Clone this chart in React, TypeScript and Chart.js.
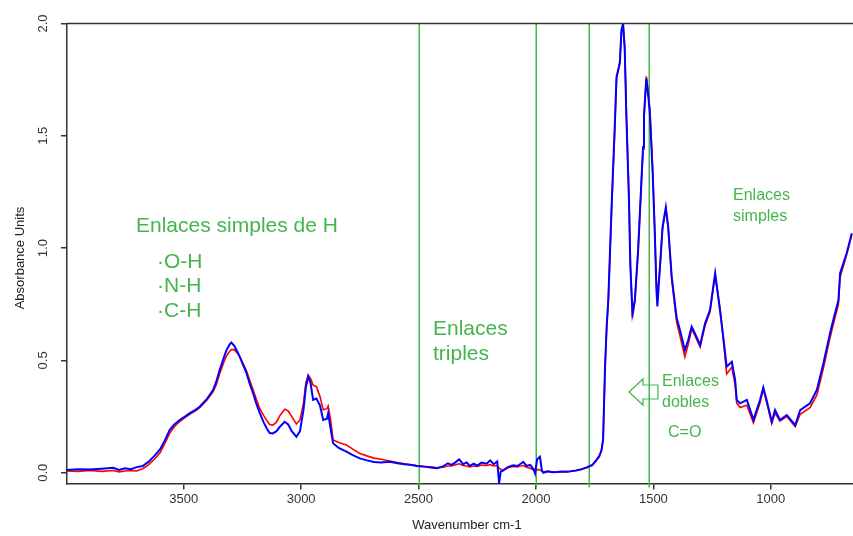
import React, { useEffect, useRef } from 'react';
import { Chart, registerables } from 'chart.js';

Chart.register(...registerables);

// Wavenumber (cm-1), descending
const wavenumbers = [
  3997, 3950, 3900, 3850, 3800, 3775, 3750, 3725, 3700, 3675, 3650, 3625, 3600, 3580, 3560, 3540,
  3517, 3495, 3474, 3450, 3432, 3400, 3375, 3360, 3347, 3330, 3318, 3305, 3297, 3285, 3270, 3261,
  3245, 3233, 3220, 3205, 3190, 3176, 3160, 3145, 3134, 3120, 3105, 3090, 3070, 3055, 3040, 3020,
  3005, 2990, 2980, 2970, 2960, 2949, 2935, 2920, 2906, 2890, 2885, 2875, 2864, 2840, 2807, 2780,
  2750, 2720, 2690, 2660, 2622, 2590, 2560, 2530, 2508, 2470, 2440, 2423, 2395, 2375, 2360, 2345,
  2327, 2310, 2295, 2282, 2265, 2250, 2232, 2210, 2195, 2180, 2165, 2157, 2150, 2140, 2120, 2097,
  2080, 2065, 2054, 2040, 2025, 2010, 2004, 1995, 1983, 1975, 1969, 1950, 1930, 1912, 1890, 1870,
  1855, 1830, 1810, 1784, 1760, 1742, 1730, 1721, 1714, 1706, 1699, 1692, 1678, 1664, 1657, 1643,
  1636, 1629, 1622, 1615, 1604, 1598, 1589, 1579, 1565, 1551, 1544, 1540, 1530, 1523, 1515, 1503,
  1494, 1487, 1483, 1472, 1461, 1447, 1437, 1422, 1401, 1387, 1366, 1352, 1337, 1323, 1301, 1280,
  1259, 1237, 1216, 1202, 1188, 1166, 1152, 1145, 1131, 1102, 1074, 1046, 1032, 1018, 996, 982,
  961, 932, 896, 875, 833, 804, 776, 748, 734, 712, 705, 677, 655,
];

// Absorbance, blue spectrum
const blueAbs = [
  0.012, 0.015, 0.014, 0.018, 0.022, 0.012, 0.020, 0.016, 0.025, 0.030, 0.048, 0.075, 0.105, 0.145, 0.190, 0.215,
  0.235, 0.250, 0.265, 0.280, 0.294, 0.330, 0.368, 0.410, 0.457, 0.510, 0.546, 0.570, 0.580, 0.565, 0.535, 0.516,
  0.475, 0.444, 0.400, 0.355, 0.305, 0.265, 0.225, 0.195, 0.177, 0.175, 0.185, 0.205, 0.227, 0.215, 0.185, 0.160,
  0.185, 0.280, 0.380, 0.427, 0.400, 0.324, 0.330, 0.300, 0.235, 0.240, 0.264, 0.200, 0.131, 0.110, 0.094, 0.078,
  0.064, 0.055, 0.048, 0.045, 0.049, 0.042, 0.038, 0.034, 0.030, 0.026, 0.022, 0.020, 0.028, 0.042, 0.035, 0.045,
  0.059, 0.038, 0.046, 0.030, 0.040, 0.032, 0.045, 0.040, 0.055, 0.038, 0.050, -0.047, 0.005, 0.009, 0.025, 0.033,
  0.030, 0.040, 0.048, 0.030, 0.035, 0.015, -0.003, 0.060, 0.071, 0.010, 0.000, 0.006, 0.002, 0.003, 0.005, 0.004,
  0.006, 0.010, 0.014, 0.024, 0.035, 0.057, 0.075, 0.100, 0.150, 0.470, 0.650, 0.770, 1.184, 1.556, 1.763, 1.823,
  1.971, 2.000, 1.882, 1.585, 1.214, 0.917, 0.710, 0.769, 0.990, 1.300, 1.450, 1.590, 1.756, 1.690, 1.600, 1.333,
  1.066, 0.813, 0.740, 0.917, 1.095, 1.182, 1.095, 0.873, 0.690, 0.635, 0.546, 0.590, 0.650, 0.620, 0.568, 0.665,
  0.724, 0.888, 0.720, 0.600, 0.472, 0.494, 0.413, 0.324, 0.309, 0.324, 0.235, 0.324, 0.380, 0.324, 0.227, 0.279,
  0.235, 0.257, 0.212, 0.279, 0.309, 0.368, 0.487, 0.620, 0.680, 0.769, 0.888, 0.977, 1.066,
];

// Absorbance, red spectrum
const redAbs = [
  0.008, 0.006, 0.010, 0.006, 0.010, 0.004, 0.008, 0.010, 0.008, 0.018, 0.035, 0.060, 0.090, 0.130, 0.175, 0.205,
  0.228, 0.245, 0.260, 0.275, 0.290, 0.325, 0.360, 0.395, 0.440, 0.490, 0.520, 0.540, 0.548, 0.548, 0.530, 0.515,
  0.480, 0.455, 0.415, 0.370, 0.325, 0.285, 0.255, 0.230, 0.215, 0.212, 0.225, 0.255, 0.283, 0.275, 0.250, 0.217,
  0.235, 0.310, 0.400, 0.435, 0.420, 0.390, 0.383, 0.340, 0.280, 0.285, 0.297, 0.240, 0.146, 0.135, 0.123, 0.105,
  0.086, 0.075, 0.065, 0.060, 0.052, 0.045, 0.040, 0.035, 0.032, 0.028, 0.025, 0.022, 0.024, 0.030, 0.030, 0.035,
  0.040, 0.032, 0.030, 0.026, 0.030, 0.028, 0.034, 0.032, 0.036, 0.030, 0.032, 0.020, 0.015, 0.012, 0.022, 0.028,
  0.026, 0.030, 0.032, 0.024, 0.020, 0.012, 0.005, 0.015, 0.012, 0.008, 0.004, 0.006, 0.004, 0.002, 0.004, 0.005,
  0.006, 0.010, 0.014, 0.022, 0.033, 0.055, 0.072, 0.100, 0.150, 0.460, 0.640, 0.760, 1.170, 1.540, 1.750, 1.830,
  1.960, 1.995, 1.900, 1.600, 1.230, 0.930, 0.690, 0.760, 0.990, 1.290, 1.440, 1.580, 1.765, 1.700, 1.620, 1.350,
  1.080, 0.830, 0.800, 0.910, 1.085, 1.175, 1.090, 0.860, 0.670, 0.610, 0.515, 0.570, 0.640, 0.610, 0.560, 0.655,
  0.715, 0.880, 0.730, 0.590, 0.440, 0.470, 0.390, 0.310, 0.290, 0.300, 0.222, 0.310, 0.370, 0.315, 0.220, 0.265,
  0.230, 0.250, 0.205, 0.260, 0.290, 0.345, 0.465, 0.600, 0.660, 0.750, 0.870, 0.970, 1.060,
];

const xTickValues = [1000, 1500, 2000, 2500, 3000, 3500];
const yTickValues = [0, 0.5, 1.0, 1.5, 2.0];
const regionLines = [2500, 2000, 1775, 1520];
const xAxisTitle = 'Wavenumber cm-1';
const yAxisTitle = 'Absorbance Units';

const GREEN = '#44b54c';
const AXIS = '#333333';
const FONT = '"Liberation Sans", Arial, sans-serif';

const overlayPlugin = {
  id: 'overlay',
  beforeDatasetsDraw(chart: any) {
    const { ctx, chartArea, scales } = chart;
    ctx.save();
    ctx.strokeStyle = GREEN;
    ctx.lineWidth = 1.5;
    for (const v of regionLines) {
      const x = Math.round(scales.x.getPixelForValue(v)) + 0.25;
      ctx.beginPath();
      ctx.moveTo(x, chartArea.top);
      ctx.lineTo(x, chartArea.bottom + 4);
      ctx.stroke();
    }
    ctx.restore();
  },
  afterDraw(chart: any) {
    const { ctx, chartArea } = chart;
    ctx.save();
    // top frame line
    ctx.strokeStyle = AXIS;
    ctx.lineWidth = 1.5;
    ctx.beginPath();
    ctx.moveTo(chartArea.left, chartArea.top);
    ctx.lineTo(chartArea.right, chartArea.top);
    ctx.stroke();

    // axis titles
    ctx.fillStyle = '#222';
    ctx.font = `13px ${FONT}`;
    ctx.textAlign = 'center';
    ctx.textBaseline = 'middle';
    ctx.fillText(xAxisTitle, 467, 525);
    ctx.save();
    ctx.translate(20, 258);
    ctx.rotate(-Math.PI / 2);
    ctx.fillText(yAxisTitle, 0, 0);
    ctx.restore();

    // annotations
    ctx.fillStyle = GREEN;
    ctx.textAlign = 'left';
    ctx.font = `21px ${FONT}`;
    ctx.fillText('Enlaces simples de H', 136, 226);
    ctx.fillText('·O-H', 157, 262);
    ctx.fillText('·N-H', 157, 286);
    ctx.fillText('·C-H', 157, 311);
    ctx.fillText('Enlaces', 433, 329);
    ctx.fillText('triples', 433, 354);
    ctx.font = `16px ${FONT}`;
    ctx.fillText('Enlaces', 662, 382);
    ctx.fillText('dobles', 662, 403);
    ctx.fillText('C=O', 668, 433);
    ctx.fillText('Enlaces', 733, 196);
    ctx.fillText('simples', 733, 217);

    // hollow arrow
    ctx.strokeStyle = GREEN;
    ctx.lineWidth = 1.2;
    ctx.beginPath();
    ctx.moveTo(629, 392);
    ctx.lineTo(643, 379);
    ctx.lineTo(643, 385);
    ctx.lineTo(658, 385);
    ctx.lineTo(658, 399);
    ctx.lineTo(643, 399);
    ctx.lineTo(643, 405);
    ctx.closePath();
    ctx.stroke();
    ctx.restore();
  },
};

export default function App() {
  const canvasRef = useRef<HTMLCanvasElement>(null);

  useEffect(() => {
    const canvas = canvasRef.current;
    if (!canvas) return;
    const chart = new Chart(canvas, {
      type: 'line',
      data: {
        datasets: [
          {
            label: 'blue',
            data: wavenumbers.map((w, i) => ({ x: w, y: blueAbs[i] })),
            borderColor: '#0000ff',
            borderWidth: 2,
            pointRadius: 0,
            tension: 0,
            fill: false,
          },
          {
            label: 'red',
            data: wavenumbers.map((w, i) => ({ x: w, y: redAbs[i] })),
            borderColor: '#ff0000',
            borderWidth: 1.6,
            pointRadius: 0,
            tension: 0,
            fill: false,
          },
        ],
      },
      options: {
        animation: false,
        responsive: false,
        maintainAspectRatio: false,
        devicePixelRatio: 1,
        layout: { padding: { top: 23.5, right: 0, left: 0, bottom: 0 } },
        plugins: { legend: { display: false }, tooltip: { enabled: false } },
        scales: {
          x: {
            type: 'linear',
            reverse: true,
            min: 650,
            max: 3997,
            afterBuildTicks: (s: any) => {
              s.ticks = xTickValues.map((v) => ({ value: v }));
            },
            afterFit: (s: any) => {
              s.height = 52.5;
            },
            grid: { drawOnChartArea: false, drawTicks: true, tickLength: 6, color: AXIS, lineWidth: 1.5 },
            border: { display: true, color: AXIS, width: 1.5 },
            ticks: {
              color: AXIS,
              font: { family: FONT, size: 13 },
              padding: 2,
              maxRotation: 0,
              autoSkip: false,
              callback: (v: any) => String(v),
            },
          },
          y: {
            type: 'linear',
            min: -0.048,
            max: 2.0,
            afterBuildTicks: (s: any) => {
              s.ticks = yTickValues.map((v) => ({ value: v }));
            },
            afterFit: (s: any) => {
              s.width = 67;
            },
            grid: { drawOnChartArea: false, drawTicks: true, tickLength: 6, color: AXIS, lineWidth: 1.5 },
            border: { display: true, color: AXIS, width: 1.5 },
            ticks: {
              color: AXIS,
              font: { family: FONT, size: 13 },
              padding: 9,
              minRotation: 90,
              maxRotation: 90,
              crossAlign: 'center',
              callback: (v: any) => Number(v).toFixed(1),
            },
          },
        },
      },
      plugins: [overlayPlugin],
    } as any);
    return () => chart.destroy();
  }, []);

  return (
    <div style={{ position: 'fixed', left: 0, top: 0, width: 853, height: 536, background: '#ffffff' }}>
      <canvas ref={canvasRef} width={853} height={536} style={{ display: 'block', width: 853, height: 536 }} />
    </div>
  );
}
